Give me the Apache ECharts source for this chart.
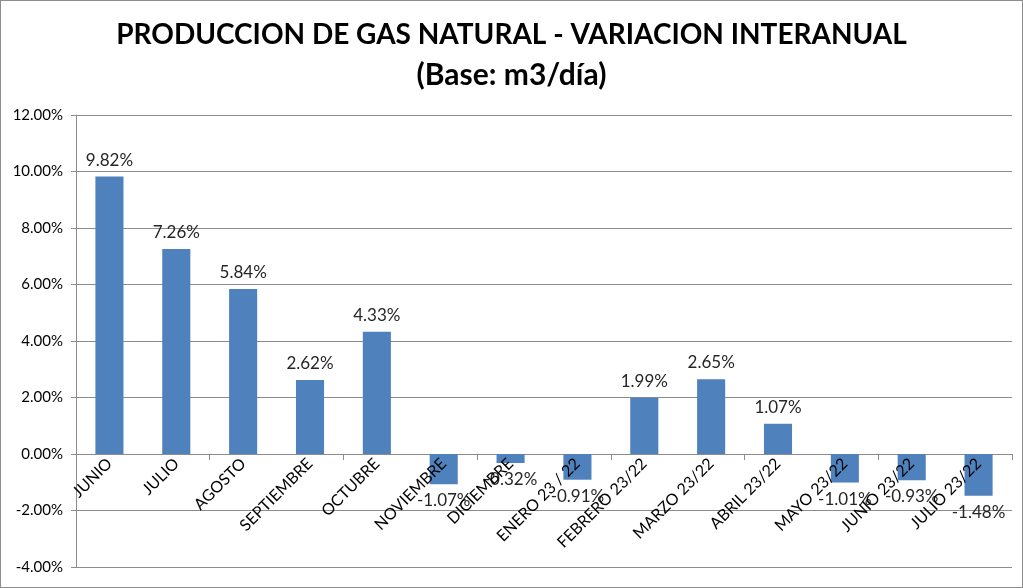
<!DOCTYPE html>
<html><head><meta charset="utf-8">
<script src="https://cdn.jsdelivr.net/npm/echarts@6/dist/echarts.min.js"></script>
<style>html,body{margin:0;padding:0;background:#fff;}#c{width:1021px;height:586px;border:1px solid #8c8c8c;}</style>
</head><body><div id="c"></div>
<script>
const categories = ['JUNIO','JULIO','AGOSTO','SEPTIEMBRE','OCTUBRE','NOVIEMBRE','DICIEMBRE','ENERO 23 / 22','FEBRERO 23/22','MARZO 23/22','ABRIL 23/22','MAYO 23/22','JUNIO 23/22','JULIO 23/22'];
const values = [9.82, 7.26, 5.84, 2.62, 4.33, -1.07, -0.32, -0.91, 1.99, 2.65, 1.07, -1.01, -0.93, -1.48];
const titleLines = ['PRODUCCION DE GAS NATURAL - VARIACION INTERANUAL', '(Base: m3/día)'];

const chart = echarts.init(document.getElementById('c'));
const font = 'Lato, "Liberation Sans", sans-serif';
const gridTop = 114, gridBottom = 20, yMin = -4, yMax = 12;
const gridH = 586 - gridTop - gridBottom;
const zeroOffset = Math.round(gridH * (0 - yMin) / (yMax - yMin));
chart.setOption({
  animation: false,
  title: {
    text: '{a|' + titleLines[0] + '}\n{b|' + titleLines[1] + '}',
    left: 'center', top: 9,
    textStyle: {
      rich: {
        a: { fontFamily: font, fontWeight: 'bold', fontSize: 28, lineHeight: 40, color: '#000' },
        b: { fontFamily: font, fontWeight: 'bold', fontSize: 30, lineHeight: 40, color: '#000' }
      }
    }
  },
  grid: { left: 75, right: 10, top: gridTop, bottom: gridBottom, outerBoundsMode: 'none', containLabel: false },
  xAxis: [{
    type: 'category',
    data: categories,
    axisLine: { onZero: true, lineStyle: { color: '#8c8c8c' } },
    axisTick: { show: true, length: 6, lineStyle: { color: '#8c8c8c' } },
    axisLabel: { show: false }
  }, {
    type: 'category',
    data: categories,
    position: 'bottom',
    offset: -zeroOffset,
    z: 5,
    axisLine: { show: false, onZero: false },
    axisTick: { show: false },
    axisLabel: { rotate: 45, interval: 0, fontFamily: font, fontSize: 16, color: '#000', margin: 7 }
  }],
  yAxis: {
    type: 'value', min: yMin, max: yMax, interval: 2,
    axisLine: { show: true, lineStyle: { color: '#8c8c8c' } },
    axisTick: { show: true, length: 5, lineStyle: { color: '#8c8c8c' } },
    splitLine: { lineStyle: { color: '#8c8c8c' } },
    axisLabel: { formatter: v => v.toFixed(2) + '%', fontFamily: font, fontSize: 15, color: '#000', margin: 13 }
  },
  series: [{
    type: 'bar',
    barWidth: '42%',
    z: 2,
    data: values.map(v => ({ value: v, label: { position: v < 0 ? 'bottom' : 'top' } })),
    itemStyle: { color: '#4f81bd' },
    label: { show: true, formatter: p => p.value.toFixed(2) + '%', fontFamily: font, fontSize: 17, color: '#262626', distance: 8 }
  }]
});
</script></body></html>
